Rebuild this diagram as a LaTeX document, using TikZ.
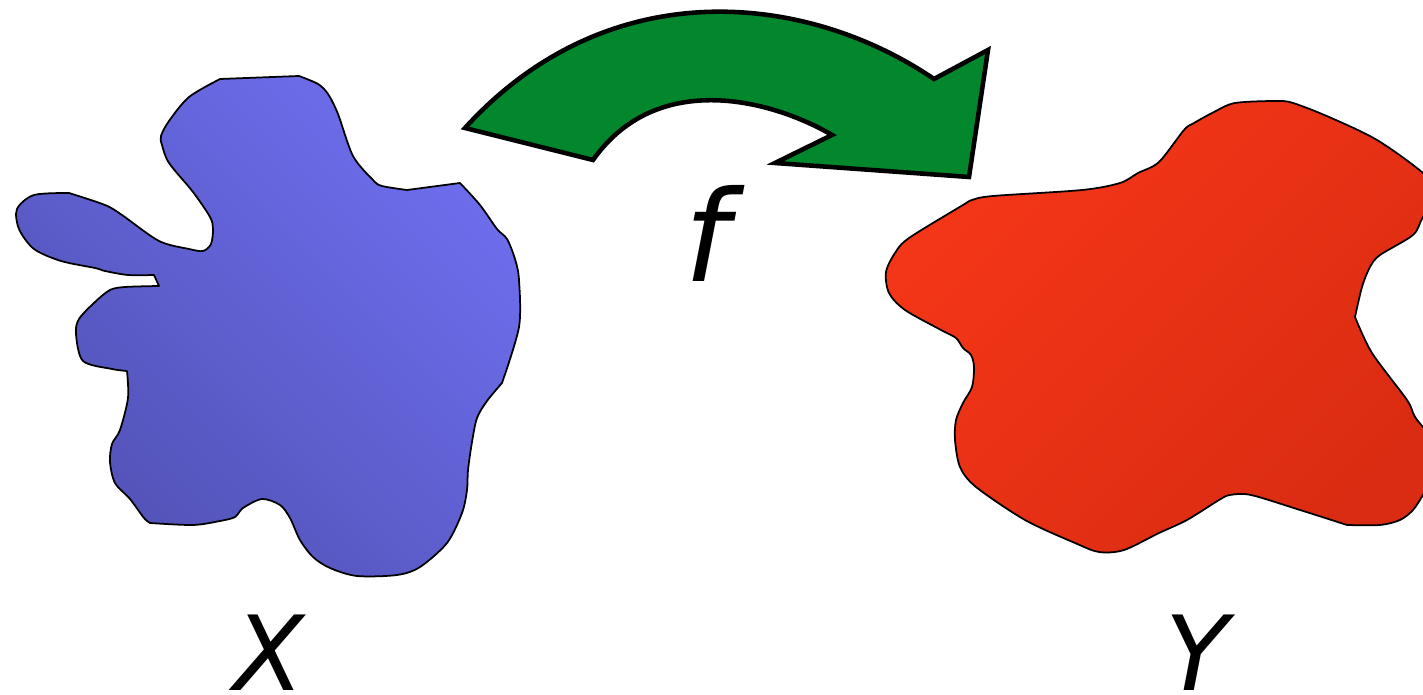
\documentclass[tikz,border=0pt]{standalone}
\usepackage{fontspec}
\usepackage{xcolor}
\newfontfamily\labelfont{DejaVu Sans}

\definecolor{setXlight}{HTML}{6E6EEE}
\definecolor{setXdark}{HTML}{5252B6}
\definecolor{setYlight}{HTML}{F53618}
\definecolor{setYdark}{HTML}{DA2C12}
\definecolor{mapgreen}{HTML}{03872D}

\begin{document}
\begin{tikzpicture}[x=0.02cm,y=-0.02cm,
  blob/.style={draw=black, line width=1pt, line join=round},
  blobX/.style={blob, top color=setXlight, bottom color=setXdark, shading angle=-45},
  blobY/.style={blob, top color=setYlight, bottom color=setYdark, shading angle=45},
  maparrow/.style={fill=mapgreen, draw=black, line width=2.6pt, line join=miter},
  setlabel/.style={font=\labelfont\itshape\fontsize{59}{59}\selectfont, inner sep=0pt, anchor=base},
  maplabel/.style={font=\labelfont\itshape\fontsize{72}{72}\selectfont, inner sep=0pt, anchor=base}]

% Frame
\clip (0,0) rectangle (1423,695);

% Set X (blue blob)
\shade[blobX]
  plot[smooth] coordinates {(460,183) (480,205) (497,229) (507,239) (515,259)
    (519,280) (519,327) (502,383)}
  -- plot[smooth] coordinates {(502,383) (487,401) (477,418) (472,442) (468,470)
    (467,490) (462,513) (447,543) (420,567) (397,575) (357,576) (330,568)
    (313,557) (300,540) (290,518) (280,505) (262,499) (243,508) (235,517)
    (220,521) (193,525) (150,523)}
  -- plot[smooth] coordinates {(150,523) (144,518) (130,499) (115,483) (110,462)
    (112,444) (120,430) (128,398) (127,371)}
  -- plot[smooth] coordinates {(127,371) (112,369) (83,361) (76,334) (79,319)
    (95,302) (110,290) (125,287) (159,286)}
  -- (154,275)
  -- plot[smooth] coordinates {(154,275) (128,275) (105,271) (95,268) (61,261)
    (34,249) (19,229) (17,209) (34,195) (69,193)}
  -- plot[smooth] coordinates {(69,193) (105,205) (122,215) (159,241) (189,249)
    (203,251) (211,244) (213,229) (210,217) (193,192) (169,163) (162,145)
    (161,136) (169,121) (189,97) (220,79)}
  -- (299,76)
  -- plot[smooth] coordinates {(299,76) (318,84) (328,94) (338,114) (353,156)
    (373,180) (382,186) (407,190)}
  -- (460,183) -- cycle;

% Set Y (red blob)
\shade[blobY]
  plot[smooth] coordinates {(1355,317) (1372,353) (1407,400) (1415,417)
    (1432,440) (1438,470) (1423,495) (1413,510) (1400,520) (1380,525) (1347,525)}
  -- plot[smooth] coordinates {(1347,525) (1300,510) (1251,495) (1230,495)
    (1219,500) (1187,520) (1159,533) (1124,550) (1099,552) (1075,543)
    (1025,520) (976,487) (960,467) (955,440) (956,420) (963,403) (972,387)
    (974,367) (971,355) (963,348) (956,338) (941,330) (905,310) (889,293)
    (886,272) (895,253) (909,238) (963,205) (972,200) (993,196) (1082,190)
    (1120,183) (1138,173) (1159,162) (1184,130) (1194,123) (1214,112)
    (1235,103) (1276,101) (1293,103) (1329,117) (1377,140) (1423,173)
    (1440,195) (1423,217) (1413,235) (1380,255) (1370,267) (1362,287) (1355,317)}
  -- cycle;

% The map (green arrow)
\filldraw[maparrow]
  (465,128) .. controls (608,-29) and (806,-8) .. (934,79)
  -- (988,50) -- (969,177) -- (775,163) -- (832,135)
  .. controls (774,101) and (658,68) .. (593,160)
  -- cycle;

% Labels
\node[setlabel] (labelX) at (269,690) {X};
\node[setlabel] (labelY) at (1197,690) {Y};
\node[maplabel] (labelF) at (707,282) {f};

\end{tikzpicture}
\end{document}
